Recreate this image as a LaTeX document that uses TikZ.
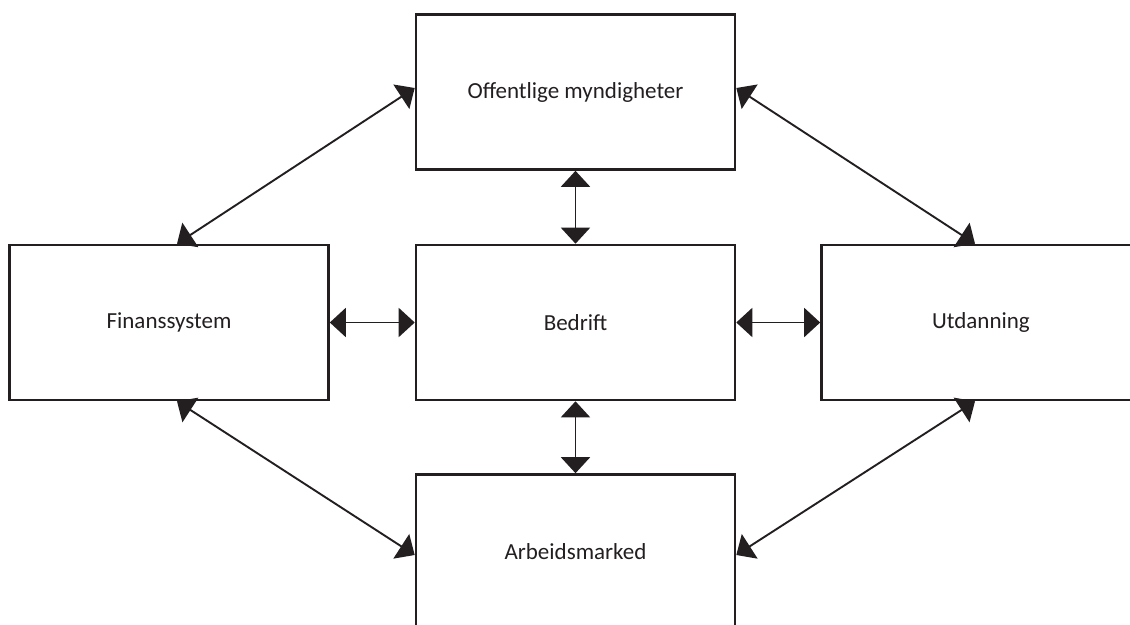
\documentclass[tikz,border=0pt]{standalone}
\usepackage{fontspec}
\setmainfont{Carlito}
\usetikzlibrary{arrows.meta, positioning}
\definecolor{linegray}{RGB}{35, 31, 32}

\begin{document}
\begin{tikzpicture}[
    x=1pt, y=-1pt,
    unitbox/.style={rectangle, draw=linegray, line width=2.6pt, minimum width=319pt, minimum height=155pt, text centered, text=linegray, font=\fontsize{23}{27}\selectfont},
    link/.style={{Triangle[length=16pt,width=29pt]}-{Triangle[length=16pt,width=29pt]}, line width=1.9pt, linegray}
]
\useasboundingbox (0,0) rectangle (1130,624);

\node[unitbox] (gov) at (575.5,92) {Offentlige myndigheter};
\node[unitbox] (firm) at (575.5,322.5) {Bedrift};
\node[unitbox] (fin) at (169,322.5) {Finanssystem};
\node[unitbox] (edu) at (981,322.5) {Utdanning};
\node[unitbox] (labour) at (575.5,552) {Arbeidsmarked};

% links to the firm
\draw[link] (gov) -- (firm);
\draw[link] (firm) -- (labour);
\draw[link] (fin) -- (firm);
\draw[link] (firm) -- (edu);

% links round the outside
\draw[link] ([yshift=4pt]gov.west) -- ([xshift=8pt]fin.north);
\draw[link] ([yshift=4pt]gov.east) -- ([xshift=-6pt]edu.north);
\draw[link] ([xshift=8pt]fin.south) -- ([yshift=-3pt]labour.west);
\draw[link] ([xshift=-6pt]edu.south) -- ([yshift=-3pt]labour.east);

\end{tikzpicture}
\end{document}
